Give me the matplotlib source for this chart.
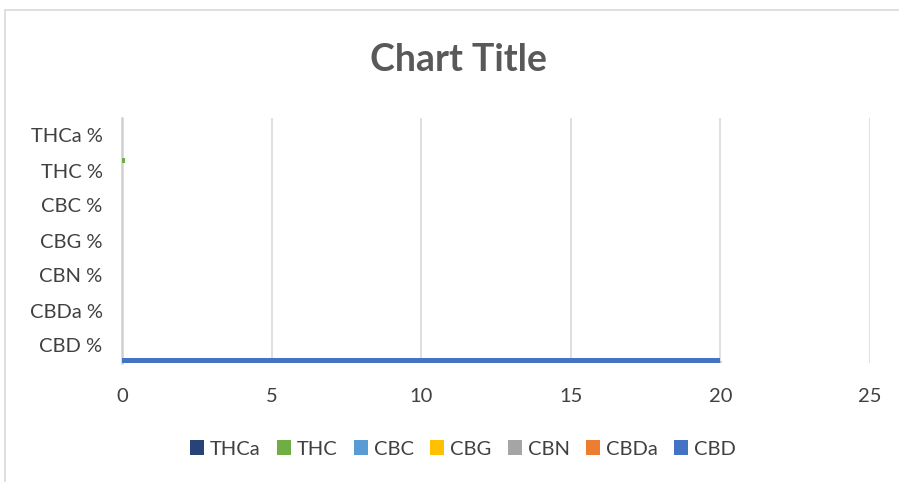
import matplotlib
matplotlib.use("Agg")
import matplotlib.pyplot as plt
import matplotlib.patheffects as pe
from matplotlib.patches import Rectangle, Patch
import numpy as np

plt.rcParams['font.family'] = ['Lato', 'DejaVu Sans']

# categories from bottom to top
categories = ["CBD %", "CBDa %", "CBN %", "CBG %", "CBC %", "THC %", "THCa %"]

# series values per category (bottom to top order of categories)
cbd  = [20, 0, 0, 0, 0, 0, 0]
cbda = [0, 0, 0, 0, 0, 0, 0]
cbn  = [0, 0, 0, 0, 0, 0, 0]
cbg  = [0, 0, 0, 0, 0, 0, 0]
cbc  = [0, 0, 0, 0, 0, 0, 0]
thc  = [0, 0, 0, 0, 0, 0.1, 0]
thca = [0, 0, 0, 0, 0, 0, 0]

series_names = ["CBD", "CBDa", "CBN", "CBG", "CBC", "THC", "THCa"]
series_vals = [cbd, cbda, cbn, cbg, cbc, thc, thca]
colors = ["#4472C4", "#ED7D31", "#A5A5A5", "#FFC000", "#5B9BD5", "#70AD47", "#264478"]

fig = plt.figure(figsize=(8.99, 4.82), dpi=100)
ax = fig.add_axes([122/899, 1 - 363/482, (870-122)/899, (363-118)/482])

# chart area border
fig.patches.append(Rectangle((5/899, -0.1), 1.2, (482-10)/482 + 0.1,
                             transform=fig.transFigure, fill=False,
                             edgecolor="#d9d9d9", linewidth=1.2))

n = len(series_names)
h = 1.0 / n
y = np.arange(len(categories))
shadow = [pe.SimplePatchShadow(offset=(1, -2), shadow_rgbFace="#808080", alpha=0.35), pe.Normal()]
for j, (name, vals, c) in enumerate(zip(series_names, series_vals, colors)):
    bars = ax.barh(y - 0.5 + (j + 0.5) * h, vals, height=h, color=c, zorder=3)
    for b in bars:
        if b.get_width() > 1:
            b.set_path_effects(shadow)

ax.set_xlim(0, 25)
ax.set_ylim(-0.5, len(categories) - 0.5)
ax.set_xticks([0, 5, 10, 15, 20, 25])
ax.set_yticks(y)
ax.set_yticklabels(categories)
ax.grid(axis="x", color="#d9d9d9", linewidth=1.2)
ax.set_axisbelow(True)
for s in ["top", "right", "bottom"]:
    ax.spines[s].set_visible(False)
ax.spines["left"].set_color("#d0d0d0")
ax.spines["left"].set_linewidth(1.8)
ax.spines["left"].set_zorder(1)
ax.tick_params(axis="both", length=0, labelsize=14.5, labelcolor="#404040")
ax.tick_params(axis="y", pad=14)
ax.tick_params(axis="x", pad=18)

fig.text(458/899, 1 - 60/482, "Chart Title", ha="center", va="center",
         fontsize=27, fontweight="bold", color="#595959")

order = ["THCa", "THC", "CBC", "CBG", "CBN", "CBDa", "CBD"]
proxies = [Patch(facecolor=colors[series_names.index(k)]) for k in order]
leg = fig.legend(proxies, order, loc="center",
                 bbox_to_anchor=(463/899, 1 - 449/482), ncol=7, frameon=False,
                 fontsize=14.5, handlelength=0.7, handleheight=0.7,
                 handletextpad=0.3, columnspacing=0.8)
for t in leg.get_texts():
    t.set_color("#404040")

fig.savefig("out.png", dpi=100)
